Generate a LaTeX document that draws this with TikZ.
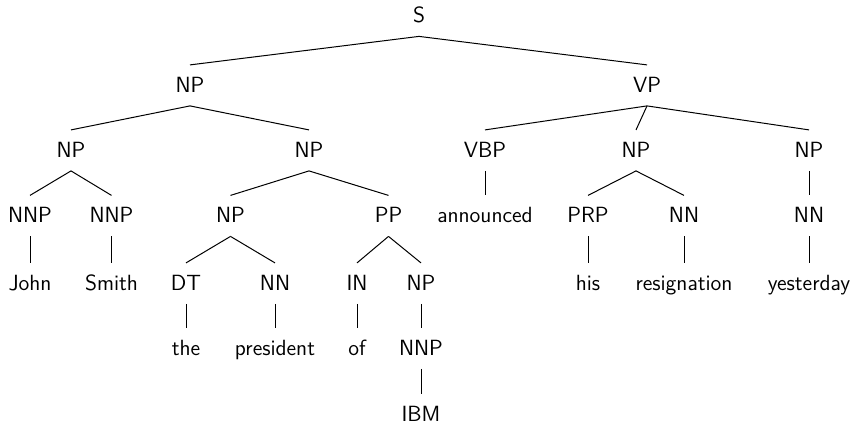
\documentclass[tikz,border=0pt]{standalone}
\begin{document}
\begin{tikzpicture}[x=0.5pt,y=-0.5pt,
  lbl/.style={font=\fontsize{11}{13}\sffamily, inner xsep=0pt, inner ysep=5.75pt,
              text height=7.6pt, text depth=1pt, anchor=base},
  branch/.style={line width=0.5pt}]
\useasboundingbox (0,0) rectangle (854,423);

% level 0
\node[lbl] (s) at (419,22.5) {S};
% level 1
\node[lbl] (np1) at (190,92) {NP};
\node[lbl] (vp) at (647,92) {VP};
% level 2
\node[lbl] (npa) at (71,157) {NP};
\node[lbl] (npb) at (309,157) {NP};
\node[lbl] (vbp) at (485,157) {VBP};
\node[lbl] (npc) at (636,157) {NP};
\node[lbl] (npd) at (809,157) {NP};
% level 3
\node[lbl] (nnpa) at (30,222.5) {NNP};
\node[lbl] (nnpb) at (111.5,222.5) {NNP};
\node[lbl] (npe) at (230.5,222.5) {NP};
\node[lbl] (pp) at (388.5,222.5) {PP};
\node[lbl] (announced) at (485,222.5) {announced};
\node[lbl] (prp) at (588,222.5) {PRP};
\node[lbl] (nna) at (684,222.5) {NN};
\node[lbl] (nnb) at (809,222.5) {NN};
% level 4
\node[lbl] (john) at (30,290) {John};
\node[lbl] (smith) at (111.5,290) {Smith};
\node[lbl] (dt) at (186,290) {DT};
\node[lbl] (nnc) at (275,290) {NN};
\node[lbl] (in) at (357,290) {IN};
\node[lbl] (npf) at (421,290) {NP};
\node[lbl] (his) at (588,290) {his};
\node[lbl] (resignation) at (684,290) {resignation};
\node[lbl] (yesterday) at (809,290) {yesterday};
% level 5
\node[lbl] (the) at (186,355) {the};
\node[lbl] (president) at (275,355) {president};
\node[lbl] (of) at (357,355) {of};
\node[lbl] (nnpc) at (421,355) {NNP};
% level 6
\node[lbl] (ibm) at (421,421) {IBM};

% branches
\foreach \p/\c in {s/np1, s/vp,
                   np1/npa, np1/npb,
                   npa/nnpa, npa/nnpb, nnpa/john, nnpb/smith,
                   npb/npe, npb/pp, npe/dt, npe/nnc, dt/the, nnc/president,
                   pp/in, pp/npf, in/of, npf/nnpc, nnpc/ibm,
                   vp/vbp, vp/npc, vp/npd, vbp/announced,
                   npc/prp, npc/nna, prp/his, nna/resignation,
                   npd/nnb, nnb/yesterday}
  \draw[branch] (\p.south) -- (\c.north);
\end{tikzpicture}
\end{document}
